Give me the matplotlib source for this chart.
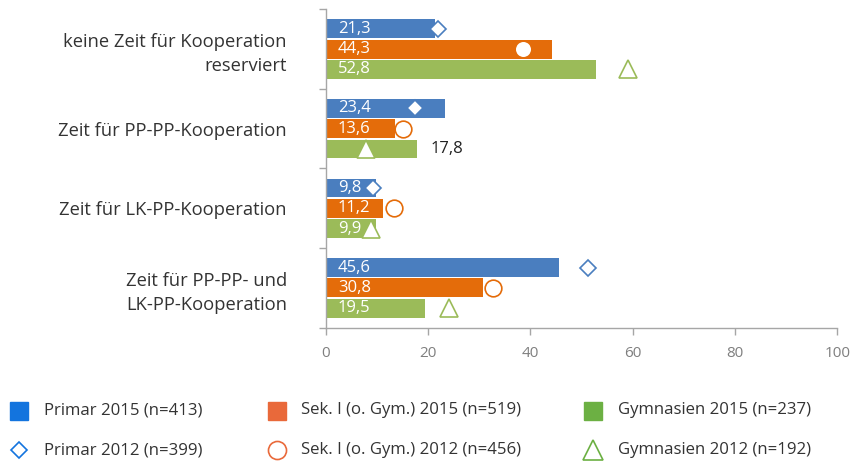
import numpy as np
import matplotlib
matplotlib.use("Agg")
import matplotlib.pyplot as plt
from matplotlib.lines import Line2D

plt.rcParams["font.family"] = ["Open Sans", "DejaVu Sans"]

categories = [
    "keine Zeit für Kooperation\nreserviert",
    "Zeit für PP-PP-Kooperation",
    "Zeit für LK-PP-Kooperation",
    "Zeit für PP-PP- und\nLK-PP-Kooperation",
]
primar_2015 = [21.3, 23.4, 9.8, 45.6]
sek_2015 = [44.3, 13.6, 11.2, 30.8]
gym_2015 = [52.8, 17.8, 9.9, 19.5]
primar_2012 = [22.0, 17.4, 9.3, 51.3]
sek_2012 = [38.6, 15.2, 13.3, 32.6]
gym_2012 = [59.1, 7.9, 8.8, 24.1]
x_ticks = [0, 20, 40, 60, 80, 100]

labels_2015 = ["Primar 2015 (n=413)", "Sek. I (o. Gym.) 2015 (n=519)", "Gymnasien 2015 (n=237)"]
labels_2012 = ["Primar 2012 (n=399)", "Sek. I (o. Gym.) 2012 (n=456)", "Gymnasien 2012 (n=192)"]

bar_colors = ["#4a7ebf", "#e46c0a", "#9bbb59"]
legend_colors = ["#1374de", "#e9693a", "#6cb043"]
markers = ["D", "o", "^"]
marker_sizes = [8.5, 12, 13]
outside_label = [[False] * 4, [False] * 4, [False, True, False, False]]

fig = plt.figure(figsize=(8.53, 4.61), dpi=100)
ax = fig.add_axes([0.3818, 0.2892, 0.6, 0.6906])

series_2015 = [primar_2015, sek_2015, gym_2015]
series_2012 = [primar_2012, sek_2012, gym_2012]
pitch = 0.255
height = 0.238
centers = np.arange(len(categories)) + 0.5

for j, (vals, old, col) in enumerate(zip(series_2015, series_2012, bar_colors)):
    y = centers + (j - 1) * pitch
    ax.barh(y, vals, height=height, color=col, zorder=2)
    for yi, v, outside in zip(y, vals, outside_label[j]):
        txt = f"{v:.1f}".replace(".", ",")
        if outside:
            ax.text(v + 2.6, yi, txt, va="center", ha="left", fontsize=12,
                    color="#222222", zorder=4)
        else:
            ax.text(2.4, yi, txt, va="center", ha="left", fontsize=12,
                    color="white", zorder=4)
    ax.plot(old, y, linestyle="none", marker=markers[j], markersize=marker_sizes[j],
            markerfacecolor="white", markeredgecolor=col, markeredgewidth=1.2, zorder=3)

ax.set_xlim(0, 100)
ax.set_ylim(len(categories), 0)
ax.set_xticks(x_ticks)
ax.set_xticklabels([str(t) for t in x_ticks], fontsize=11, color="#7f7f7f")
ax.set_yticks(centers)
ax.set_yticklabels(categories, fontsize=13.2, color="#333333", linespacing=1.45)
ax.set_yticks(np.arange(len(categories) + 1), minor=True)
ax.tick_params(axis="y", which="major", length=0, pad=28)
ax.tick_params(axis="y", which="minor", length=5, color="#a6a6a6", width=1)
ax.tick_params(axis="x", length=5, color="#a6a6a6", width=1, pad=8)
for s in ["top", "right"]:
    ax.spines[s].set_visible(False)
for s in ["left", "bottom"]:
    ax.spines[s].set_color("#a6a6a6")
    ax.spines[s].set_linewidth(1)

# legend drawn by hand in figure coords
col_x = [19.5 / 853, 276.5 / 853, 593.5 / 853]
row_y = [1 - 410.5 / 461, 1 - 450 / 461]
text_dx = 25 / 853
legend_marker_sizes = [8.5, 13, 14]
for c in range(3):
    fig.add_artist(Line2D([col_x[c]], [row_y[0]], transform=fig.transFigure,
                          marker="s", markersize=13.5, linestyle="none",
                          markerfacecolor=legend_colors[c], markeredgecolor=legend_colors[c]))
    fig.add_artist(Line2D([col_x[c]], [row_y[1]], transform=fig.transFigure,
                          marker=markers[c], markersize=legend_marker_sizes[c], linestyle="none",
                          markerfacecolor="white", markeredgecolor=legend_colors[c],
                          markeredgewidth=1.2))
    fig.text(col_x[c] + text_dx, row_y[0], labels_2015[c], va="center", ha="left",
             fontsize=12.1, color="#333333")
    fig.text(col_x[c] + text_dx, row_y[1], labels_2012[c], va="center", ha="left",
             fontsize=12.1, color="#333333")

fig.savefig("out.png", dpi=100, facecolor="white")
